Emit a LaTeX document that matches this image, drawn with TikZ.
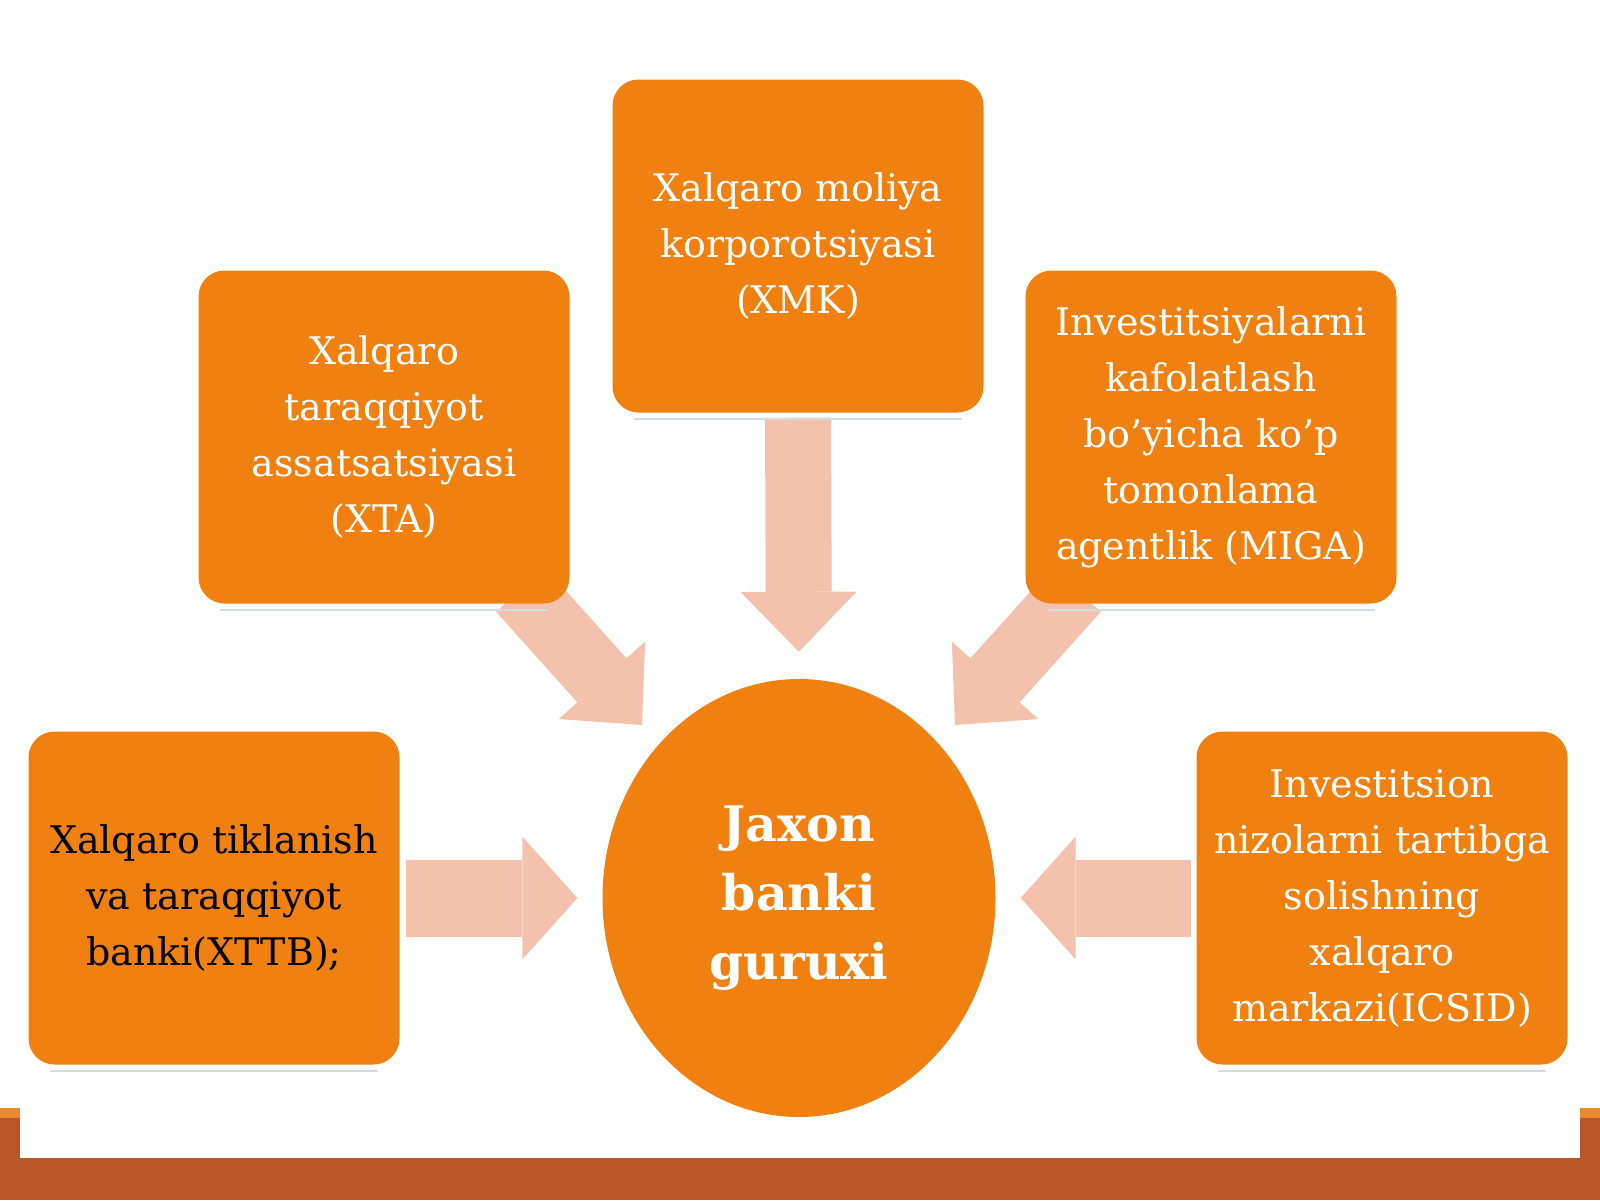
\documentclass[tikz,border=0pt]{standalone}
\usepackage{fontspec}
\setmainfont{DejaVu Serif}
\usepackage{tikz}
\usetikzlibrary{shapes.geometric}
\usetikzlibrary{arrows.meta}
\usetikzlibrary{backgrounds}

\definecolor{boxorange}{HTML}{F08110}
\definecolor{arrowpink}{HTML}{F4C2AC}
\definecolor{barbrown}{HTML}{B9562A}
\definecolor{striporange}{HTML}{E98A2C}
\definecolor{shadowgrey}{HTML}{D3DCE2}

\begin{document}
\begin{tikzpicture}[x=1pt, y=-1pt,
    orgbox/.style={fill=boxorange, rounded corners=26pt, minimum width=371pt, minimum height=333pt,
      inner sep=0pt, align=center, text=white, font=\fontsize{38}{56}\selectfont},
    bigarrow/.style={draw=arrowpink, line width=66pt, -{Triangle[width=116pt, length=60pt, line width=0pt]}},
    sidearrow/.style={draw=arrowpink, line width=77pt, -{Triangle[width=123pt, length=55pt, line width=0pt]}},
    shadowline/.style={draw=shadowgrey, line width=2pt}]

    \useasboundingbox (0,0) rectangle (1600,1200);

    % Bottom frame of the slide
    \fill[barbrown] (0,1158) rectangle (1600,1200);
    \fill[barbrown] (0,1118) rectangle (20,1158);
    \fill[barbrown] (1580,1118) rectangle (1600,1158);
    \fill[striporange] (0,1108) rectangle (20,1118);
    \fill[striporange] (1580,1108) rectangle (1600,1118);

    % Centre: the group
    \node[ellipse, fill=boxorange, minimum width=393pt, minimum height=438pt, inner sep=0pt,
      align=center, text=white, font=\bfseries\fontsize{49}{69}\selectfont] (jaxon) at (799,898)
      {Jaxon\\banki\\guruxi};

    % Member institutions
    \node[orgbox] (xmk) at (798,246) {Xalqaro moliya\\korporotsiyasi\\(XMK)};
    \node[orgbox] (xta) at (384,437) {Xalqaro\\taraqqiyot\\assatsatsiyasi\\(XTA)};
    \node[orgbox] (miga) at (1211,437) {Investitsiyalarni\\kafolatlash\\bo’yicha ko’p\\tomonlama\\agentlik (MIGA)};
    \node[orgbox, text=black] (xttb) at (214,898) {Xalqaro tiklanish\\va taraqqiyot\\banki(XTTB);};
    \node[orgbox] (icsid) at (1382,898) {Investitsion\\nizolarni tartibga\\solishning\\xalqaro\\markazi(ICSID)};

    % Faint lines under the boxes
    \foreach \nm in {xmk,xta,miga,xttb,icsid}
      \draw[shadowline] ([xshift=22pt,yshift=-6pt]\nm.south west) -- ([xshift=-22pt,yshift=-6pt]\nm.south east);

    % Block arrows pointing at the centre
    \coordinate (xtatip) at (642,725);
    \coordinate (migatip) at (955,725);
    \begin{scope}[on background layer]
      \draw[bigarrow, shorten <=5pt, shorten >=27pt] (xmk.south) -- (jaxon.north);
      \draw[bigarrow] ([xshift=-49pt,yshift=14pt]xta.south east) -- (xtatip);
      \draw[bigarrow] ([xshift=51pt,yshift=14pt]miga.south west) -- (migatip);
      \draw[sidearrow, shorten <=6pt, shorten >=25pt] (xttb.east) -- (jaxon.west);
      \draw[sidearrow, shorten <=5pt, shorten >=25pt] (icsid.west) -- (jaxon.east);
    \end{scope}

\end{tikzpicture}
\end{document}
